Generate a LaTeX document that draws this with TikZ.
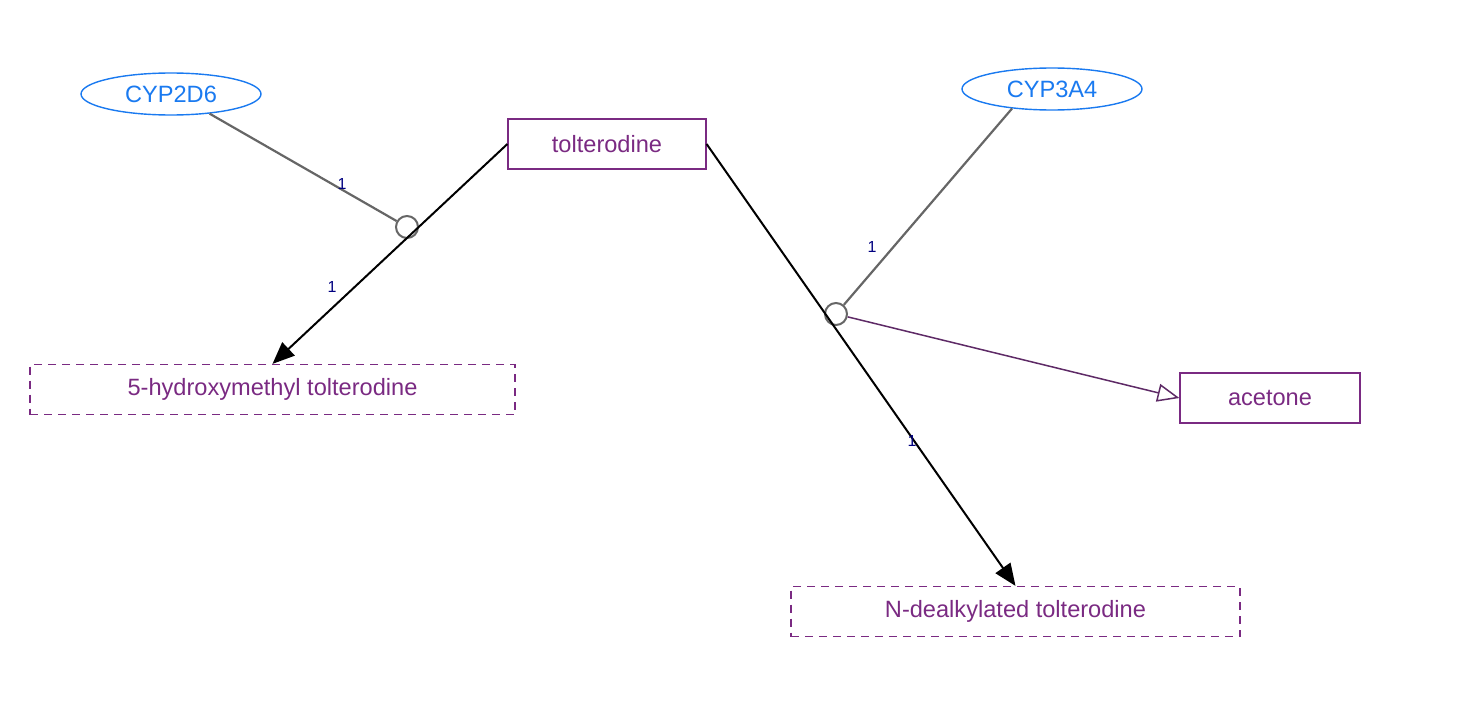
\documentclass[tikz,border=0pt]{standalone}
\usepackage{fontspec}
\setmainfont{Liberation Sans}
\usetikzlibrary{shapes.geometric, arrows.meta}
\definecolor{enzblue}{RGB}{26,122,240}
\definecolor{chempurple}{RGB}{122,42,130}
\definecolor{linkpurple}{RGB}{94,42,102}
\definecolor{linkgray}{RGB}{102,102,102}
\definecolor{lblnavy}{RGB}{0,0,128}

\begin{document}
\begin{tikzpicture}[x=0.5pt,y=-0.5pt,>=Stealth,
        enzyme/.style={draw=enzblue, ellipse, line width=0.7pt, text=enzblue, inner sep=0pt, minimum width=90pt, minimum height=21pt, font=\fontsize{11.8}{13}\selectfont},
        chem/.style={draw=chempurple, line width=0.6pt, text=chempurple, inner sep=0pt, minimum height=25pt, font=\fontsize{11.8}{13}\selectfont},
        metab/.style={chem, dash pattern=on 4pt off 3pt},
        hub/.style={draw=linkgray, circle, fill=white, line width=1pt, inner sep=0pt, minimum size=11pt},
        cat/.style={draw=linkgray, line width=1.1pt},
        conv/.style={draw=black, line width=1pt, -{Triangle[length=11pt,width=9pt]}},
        lbl/.style={text=lblnavy, inner sep=0pt, font=\fontsize{8}{9}\selectfont}]
    \useasboundingbox (0,0) rectangle (1478,712);
    % enzymes
    \node[enzyme] (cyp2d6) at (171,94) {CYP2D6};
    \node[enzyme] (cyp3a4) at (1052,89) {CYP3A4};
    % compounds
    \node[chem, minimum width=99pt] (tolt) at (607,144) {tolterodine};
    \node[metab, minimum width=242.5pt] (hydroxy) at (272.5,389.5) {5-hydroxymethyl tolterodine};
    \node[chem, minimum width=90pt] (acetone) at (1270,398) {acetone};
    \node[metab, minimum width=224.5pt] (dealk) at (1015.5,611.5) {N-dealkylated tolterodine};
    % reaction hubs
    \node[hub] (rxa) at (407,227) {};
    \node[hub] (rxb) at (836,314) {};
    % catalysis
    \draw[cat] (cyp2d6.-27) -- (rxa);
    \draw[cat] (cyp3a4.206) -- (rxb);
    \draw[linkpurple, line width=0.75pt, -{Triangle[open,length=11pt,width=9pt]}] (rxb) -- (acetone.west);
    % conversions
    \draw[conv] (tolt.west) -- (hydroxy.north);
    \draw[conv] (tolt.east) -- (dealk.north);
    % stoichiometry
    \node[lbl] (la) at (342,184) {1};
    \node[lbl] (lb) at (332,287) {1};
    \node[lbl] (lc) at (872,247) {1};
    \node[lbl] (ld) at (912,441) {1};
\end{tikzpicture}
\end{document}
